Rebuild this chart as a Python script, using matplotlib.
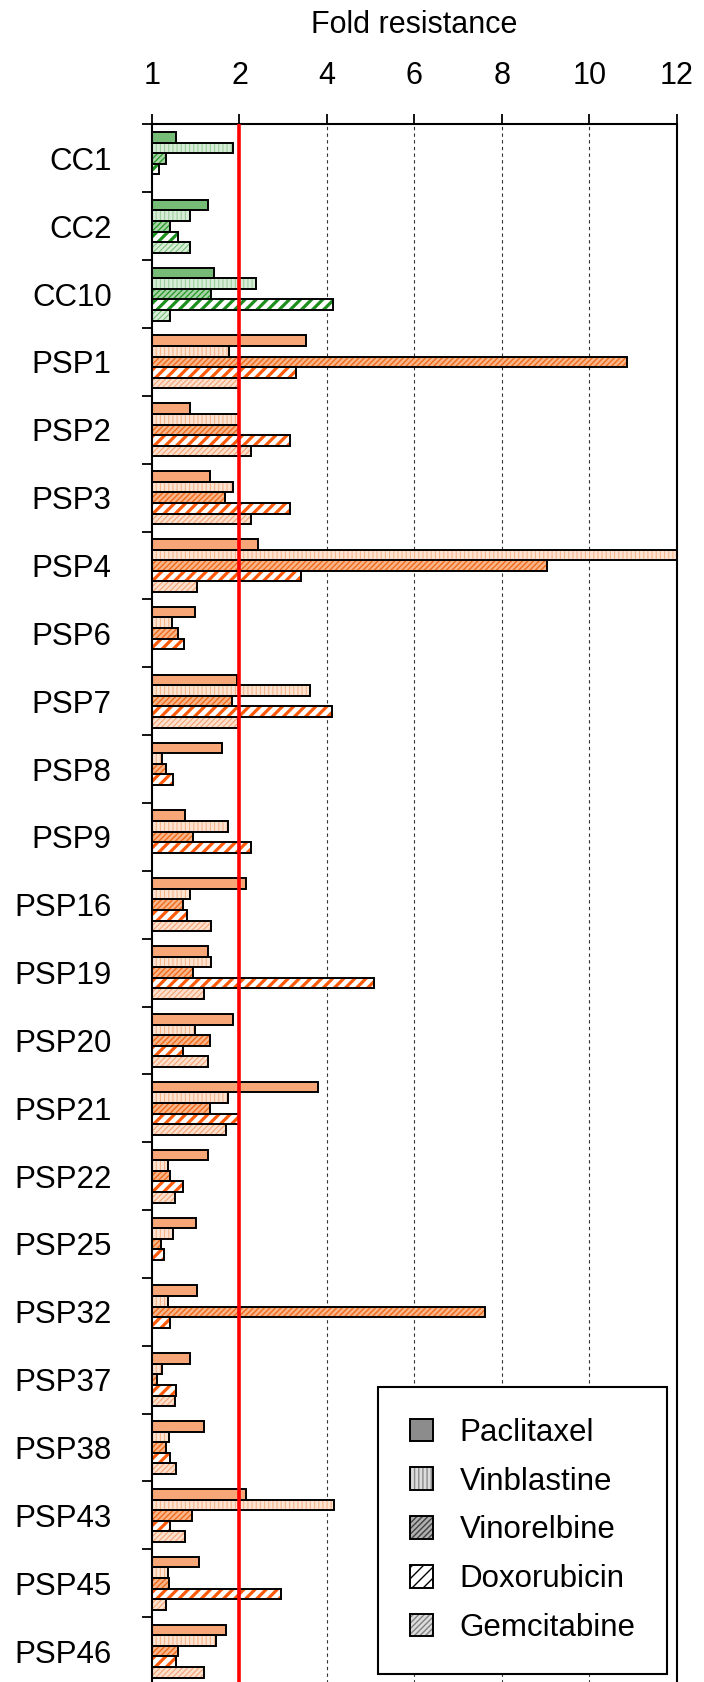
import numpy as np
import matplotlib
matplotlib.use('Agg')
from matplotlib import pyplot as plt
import matplotlib.patches as mpatches

plt.rcParams['font.family'] = ['Liberation Sans', 'DejaVu Sans']

nan = np.nan
groups = ['CC1', 'CC2', 'CC10', 'PSP1', 'PSP2', 'PSP3', 'PSP4', 'PSP6', 'PSP7',
          'PSP8', 'PSP9', 'PSP16', 'PSP19', 'PSP20', 'PSP21', 'PSP22', 'PSP25',
          'PSP32', 'PSP37', 'PSP38', 'PSP43', 'PSP45', 'PSP46']
drugs = ['Paclitaxel', 'Vinblastine', 'Vinorelbine', 'Doxorubicin', 'Gemcitabine']

paclitaxel = [1.27, 1.64, 1.71, 3.53, 1.44, 1.66, 2.43, 1.49, 1.97, 1.80, 1.38, 2.14,
              1.64, 1.93, 3.80, 1.64, 1.50, 1.52, 1.44, 1.60, 2.14, 1.54, 1.85]
vinblastine = [1.93, 1.43, 2.38, 1.88, 2.0, 1.93, 12.0, 1.23, 3.61, 1.11, 1.87, 1.44,
               1.68, 1.49, 1.87, 1.18, 1.24, 1.18, 1.11, 1.19, 4.17, 1.18, 1.73]
vinorelbine = [1.16, 1.21, 1.67, 10.86, 2.0, 1.83, 9.04, 1.30, 1.91, 1.16, 1.47, 1.35,
               1.47, 1.66, 1.66, 1.21, 1.10, 7.61, 1.06, 1.16, 1.46, 1.19, 1.30]
doxorubicin = [1.08, 1.30, 4.14, 3.29, 3.15, 3.15, 3.40, 1.37, 4.11, 1.24, 2.26, 1.40,
               5.07, 1.35, 2.0, 1.35, 1.14, 1.21, 1.27, 1.21, 1.21, 2.95, 1.27]
gemcitabine = [nan, 1.43, 1.21, 2.0, 2.27, 2.27, 1.52, nan, 1.98, nan, nan, 1.68,
               1.60, 1.64, 1.85, 1.26, nan, nan, 1.26, 1.28, 1.38, 1.16, 1.60]
series = [paclitaxel, vinblastine, vinorelbine, doxorubicin, gemcitabine]
n_cc = 3  # first groups are CC (green), the rest PSP (orange)

xticks = [1, 2, 4, 6, 8, 10, 12]

# (face, hatch colour, hatch, hatch linewidth)
green = [('#76bb76', '#5fae5f', '', 1.0),
         ('#d7edd7', '#9ccf9c', '||||', 0.8),
         ('#a9d6a9', '#2e9a2e', '//////', 1.0),
         ('#ffffff', '#1c8f1c', '///', 2.3),
         ('#d9efd9', '#79c079', '//////', 0.8)]
orange = [('#f6a677', '#f29a66', '', 1.0),
          ('#fde3d1', '#f5b48c', '||||', 0.8),
          ('#f8b68a', '#f06a1c', '//////', 1.0),
          ('#ffffff', '#ff5a0a', '///', 2.3),
          ('#fde1cd', '#f3a277', '//////', 0.8)]
gray = [('#8c8c8c', '#707070', '', 1.0),
        ('#dddddd', '#8a8a8a', '||||', 0.8),
        ('#b0b0b0', '#404040', '//////', 1.0),
        ('#ffffff', '#000000', '///', 2.0),
        ('#dcdcdc', '#808080', '//////', 0.8)]


def fwd(v):
    v = np.asarray(v, dtype=float)
    return np.where(v <= 2, v - 1, 1 + (v - 2) / 2)


def inv(p):
    p = np.asarray(p, dtype=float)
    return np.where(p <= 1, p + 1, 2 + 2 * (p - 1))


def set_hlw(patch, lw):
    try:
        patch.set_hatch_linewidth(lw)
    except AttributeError:
        pass


fig = plt.figure(figsize=(7.04, 16.82), dpi=100)
ax = fig.add_axes([0.2159, -0.0018, 0.7457, 0.9278])
ax.set_xscale('function', functions=(fwd, inv))
ax.set_xlim(1, 12)
ax.set_ylim(len(groups), 0)

pitch = 0.156
for j, vals in enumerate(series):
    for i, v in enumerate(vals):
        if np.isnan(v):
            continue
        face, hc, hatch, hlw = (green if i < n_cc else orange)[j]
        y = i + 0.5 + (j - 2) * pitch
        with plt.rc_context({'hatch.linewidth': hlw}):
            b = ax.barh(y, v - 1, left=1, height=pitch, color=face,
                        edgecolor=hc, linewidth=0, hatch=hatch, zorder=2)
        for p in b:
            set_hlw(p, hlw)
        ax.barh(y, v - 1, left=1, height=pitch, fill=False,
                edgecolor='black', linewidth=1.4, zorder=3)

# grid and threshold line
for g in xticks[2:-1]:
    ax.axvline(g, color='#333333', linestyle=(0, (3, 3)), linewidth=0.8, zorder=1)
ax.axvline(2, color='red', linewidth=2.6, zorder=5)

ax.xaxis.tick_top()
ax.set_xticks(xticks)
ax.set_xticklabels([str(t) for t in xticks])
ax.tick_params(axis='x', which='major', direction='out', length=7, width=1.3,
               pad=17, labelsize=22)
ax.minorticks_off()
ax.set_title('Fold resistance', fontsize=22, pad=20)

ax.set_yticks(np.arange(len(groups) + 1))
ax.set_yticklabels([])
ax.set_yticks(np.arange(len(groups)) + 0.5, minor=True)
ax.set_yticklabels(groups, minor=True)
ax.tick_params(axis='y', which='major', direction='out', length=7, width=1.3)
ax.tick_params(axis='y', which='minor', length=0, pad=29, labelsize=22.5)
ax.xaxis.set_minor_locator(matplotlib.ticker.NullLocator())

for s in ax.spines.values():
    s.set_linewidth(1.5)

handles = []
for face, hc, hatch, hlw in gray:
    with plt.rc_context({'hatch.linewidth': hlw}):
        fp = mpatches.Patch(facecolor=face, edgecolor=hc, linewidth=0, hatch=hatch)
    set_hlw(fp, hlw)
    op = mpatches.Patch(fill=False, edgecolor='black', linewidth=1.4)
    handles.append((fp, op))
leg = ax.legend(handles, drugs, loc='lower right', bbox_to_anchor=(0.981, 0.007),
                fontsize=22.5, frameon=True, fancybox=False, edgecolor='black',
                framealpha=1, handlelength=0.75, handleheight=0.75,
                handletextpad=0.85, labelspacing=0.6, borderpad=1.0,
                borderaxespad=0)
leg.get_frame().set_linewidth(1.5)
leg.set_zorder(10)

plt.savefig('out.png', dpi=100)
